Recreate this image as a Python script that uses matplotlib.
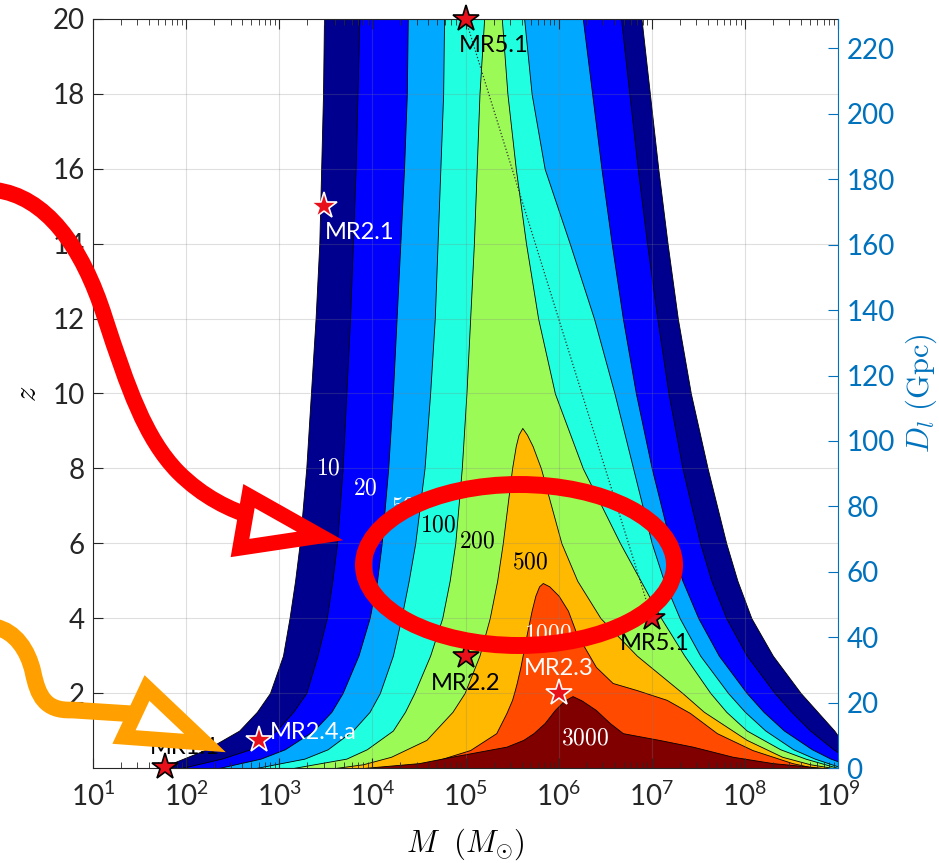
import matplotlib
matplotlib.use("Agg")
import matplotlib.pyplot as plt
import matplotlib.transforms as mtransforms
from matplotlib.path import Path
from matplotlib.patches import Ellipse, Polygon, PathPatch
import numpy as np

plt.rcParams['font.family'] = ['Lato', 'DejaVu Sans']
plt.rcParams['mathtext.fontset'] = 'cm'

# SNR contour levels and fill colours (jet-like)
levels = [10, 20, 50, 100, 200, 500, 1000, 3000]
colors = ['#00008f', '#0000ff', '#00a8ff', '#20ffdf', '#9cfa57', '#ffb900', '#ff4a00', '#800000']

# edges of the region SNR >= level, as log10(M/Msun) at each redshift
z_open = [0, 0.25, 0.5, 1, 1.5, 2, 3, 4, 5, 6, 8, 10, 12, 14, 16, 18, 20]
left_10 = [1.72, 1.97, 2.22, 2.57, 2.76, 2.90, 3.04, 3.11, 3.17, 3.22, 3.29, 3.34, 3.39, 3.43, 3.45, 3.47, 3.48]
right_10 = [9.45, 9.25, 9.10, 8.96, 8.78, 8.60, 8.30, 8.07, 7.92, 7.80, 7.60, 7.42, 7.28, 7.17, 7.07, 6.98, 6.89]
left_20 = [1.95, 2.38, 2.69, 2.97, 3.15, 3.29, 3.41, 3.51, 3.57, 3.62, 3.68, 3.72, 3.76, 3.79, 3.82, 3.84, 3.86]
right_20 = [9.30, 9.10, 8.95, 8.70, 8.50, 8.32, 8.02, 7.80, 7.64, 7.52, 7.33, 7.18, 7.06, 6.95, 6.85, 6.76, 6.67]
left_50 = [2.35, 2.80, 3.06, 3.37, 3.56, 3.68, 3.85, 3.97, 4.05, 4.10, 4.17, 4.22, 4.26, 4.30, 4.34, 4.37, 4.38]
right_50 = [9.20, 8.92, 8.72, 8.42, 8.20, 8.02, 7.72, 7.50, 7.33, 7.20, 7.00, 6.83, 6.69, 6.57, 6.46, 6.36, 6.26]
left_100 = [2.75, 3.27, 3.52, 3.79, 3.97, 4.08, 4.22, 4.31, 4.39, 4.46, 4.56, 4.62, 4.67, 4.70, 4.73, 4.76, 4.77]
right_100 = [9.05, 8.75, 8.52, 8.22, 8.00, 7.82, 7.52, 7.30, 7.13, 7.00, 6.80, 6.60, 6.38, 6.12, 5.85, 5.71, 5.63]
left_200 = [3.15, 3.72, 3.94, 4.22, 4.35, 4.45, 4.62, 4.75, 4.83, 4.89, 4.96, 5.01, 5.05, 5.09, 5.12, 5.15, 5.20]
right_200 = [9.00, 8.65, 8.38, 8.02, 7.80, 7.63, 7.35, 7.10, 6.88, 6.66, 6.26, 5.96, 5.78, 5.65, 5.54, 5.45, 5.39]

z_500 = [0, 0.1, 0.3, 0.75, 1.5, 2, 3, 4, 5, 6, 7, 8, 8.6, 8.9, 9.08]
left_500 = [3.60, 3.90, 4.20, 4.58, 4.86, 4.99, 5.15, 5.26, 5.34, 5.40, 5.45, 5.50, 5.54, 5.57, 5.61]
right_500 = [8.95, 8.70, 8.40, 8.02, 7.56, 7.33, 6.84, 6.45, 6.20, 6.03, 5.92, 5.81, 5.72, 5.66, 5.61]

z_1000 = [0, 0.13, 0.48, 0.93, 1.47, 1.82, 2.08, 2.27, 2.7, 3.6, 4.2, 4.6, 4.85, 4.94]
left_1000 = [4.20, 4.60, 5.05, 5.33, 5.44, 5.50, 5.53, 5.55, 5.59, 5.66, 5.71, 5.75, 5.79, 5.83]
right_1000 = [8.75, 8.51, 8.08, 7.70, 7.41, 7.16, 6.84, 6.58, 6.40, 6.19, 6.10, 6.00, 5.90, 5.83]

z_3000 = [0, 0.13, 0.3, 0.57, 0.75, 0.93, 1.2, 1.55, 1.8, 1.92]
left_3000 = [3.90, 4.50, 4.85, 5.44, 5.62, 5.73, 5.85, 5.96, 6.06, 6.15]
right_3000 = [8.85, 8.30, 7.87, 7.44, 7.08, 6.69, 6.55, 6.40, 6.25, 6.15]

# mission reference sources: name, mass (Msun), redshift
src_names = ['MR1.1', 'MR2.4.a', 'MR2.1', 'MR5.1', 'MR2.2', 'MR2.3', 'MR5.1']
src_mass = [60, 600, 3e3, 1e5, 1e5, 1e6, 1e7]
src_z = [0.03, 0.75, 15, 20, 3, 2, 4]

xticks = [1e1, 1e2, 1e3, 1e4, 1e5, 1e6, 1e7, 1e8, 1e9]
zticks = [2, 4, 6, 8, 10, 12, 14, 16, 18, 20]
dl_ticks = [0, 20, 40, 60, 80, 100, 120, 140, 160, 180, 200, 220]

W, H = 939, 863
fig = plt.figure(figsize=(W / 100, H / 100), dpi=100)
ax = fig.add_axes([93 / W, 1 - 768 / H, 745 / W, 749 / H])

bounds = [(z_open, left_10, right_10), (z_open, left_20, right_20), (z_open, left_50, right_50),
          (z_open, left_100, right_100), (z_open, left_200, right_200), (z_500, left_500, right_500),
          (z_1000, left_1000, right_1000), (z_3000, left_3000, right_3000)]
for (zz, lo, hi), c in zip(bounds, colors):
    ax.fill_betweenx(zz, 10 ** np.array(lo), 10 ** np.array(hi), facecolor=c, edgecolor='k', lw=0.6, zorder=1)

ax.set_xscale('log')
ax.set_xlim(1e1, 1e9)
ax.set_ylim(0, 20)
ax.set_xticks(xticks)
ax.set_yticks(zticks)
ax.grid(True, color='#808080', alpha=0.25, lw=0.8)
ax.tick_params(which='both', direction='in', top=True, right=False, labelsize=20, colors='#262626')
ax.tick_params(axis='x', which='major', length=7, pad=10)
ax.tick_params(axis='x', which='minor', length=4)
ax.tick_params(axis='y', length=7, pad=6)
for s in ['left', 'bottom', 'top']:
    ax.spines[s].set_color('#262626')
ax.spines['right'].set_visible(False)
ax.set_xlabel(r'$M\ \ (M_{\odot})$', fontsize=22, labelpad=11)
ax.set_ylabel(r'$z$', fontsize=22, labelpad=8)

# dotted track between the two MR5.1 sources
ax.plot([1e5, 1e7], [20, 4], ls=':', color='#303030', lw=0.9, zorder=2)

# contour labels
clab = [('10', 3.53, 8.0, 'w'), ('20', 3.92, 7.48, 'w'), ('50', 4.33, 6.98, 'w'), ('100', 4.71, 6.49, 'k'),
        ('200', 5.13, 6.06, 'k'), ('500', 5.69, 5.5, 'k'), ('1000', 5.89, 3.58, 'w'), ('3000', 6.28, 0.8, 'w')]
for t, lm, zz, c in clab:
    ax.text(10 ** lm, zz, '$%s$' % t, color=c, fontsize=17, ha='center', va='center', zorder=4)

# stars and their labels
edge = ['k', 'w', 'w', 'k', 'k', 'w', 'k']
lab_col = ['k', 'w', 'w', 'k', 'k', 'w', 'k']
offs = [(14, 14, 'center'), (8, 5, 'left'), (1, -19, 'left'), (20, -19, 'center'),
        (0, -20, 'center'), (0, 18, 'center'), (2, -18, 'center')]
for n, m, zz, ec, lc, (dx, dy, ha) in zip(src_names, src_mass, src_z, edge, lab_col, offs):
    ax.plot(m, zz, marker='*', ms=20, mfc='#e8111b', mec=ec, mew=1.2, clip_on=False, zorder=5)
    ax.annotate(n, (m, zz), xytext=(dx, dy), textcoords='offset points', color=lc,
                fontsize=17, ha=ha, va='center', zorder=5, annotation_clip=False)

# luminosity distance axis
blue = '#0072bd'
ax2 = ax.twinx()
ax2.set_ylim(0, 229)
ax2.set_yticks(dl_ticks)
ax2.tick_params(direction='in', length=7, pad=6, labelsize=20, colors=blue)
ax2.spines['right'].set_color(blue)
for s in ['left', 'top', 'bottom']:
    ax2.spines[s].set_visible(False)
ax2.set_ylabel(r'$D_l\ (\mathrm{Gpc})$', fontsize=22, color=blue, labelpad=6)

# hand-drawn highlights (figure pixel coordinates)
px = mtransforms.Affine2D().scale(1 / W, -1 / H).translate(0, 1) + fig.transFigure
red = '#ff0000'
orange = '#ffa000'
C4 = Path.CURVE4
red_path = Path([(-5, 190), (45, 196), (82, 245), (105, 318),
                 (128, 388), (145, 438), (178, 472),
                 (203, 497), (230, 510), (256, 518)],
                [Path.MOVETO, C4, C4, C4, C4, C4, C4, C4, C4, C4])
fig.add_artist(PathPatch(red_path, transform=px, facecolor='none', edgecolor=red, lw=11.5, capstyle='round'))
fig.add_artist(Polygon([(249, 496), (320, 536), (240, 548)], closed=True, transform=px,
                       facecolor='white', edgecolor=red, lw=11, joinstyle='miter'))
orange_path = Path([(-5, 627), (15, 631), (28, 650), (33, 672),
                    (38, 696), (45, 711), (72, 710), (150, 715)],
                   [Path.MOVETO, C4, C4, C4, C4, C4, C4, Path.LINETO])
fig.add_artist(PathPatch(orange_path, transform=px, facecolor='none', edgecolor=orange, lw=12, capstyle='round'))
fig.add_artist(Polygon([(147, 688), (205, 743), (124, 737)], closed=True, transform=px,
                       facecolor='white', edgecolor=orange, lw=11, joinstyle='miter'))
fig.add_artist(Ellipse((519, 565), 311, 161, transform=px, facecolor='none', edgecolor=red, lw=12.2))

fig.savefig('out.png', dpi=100)
